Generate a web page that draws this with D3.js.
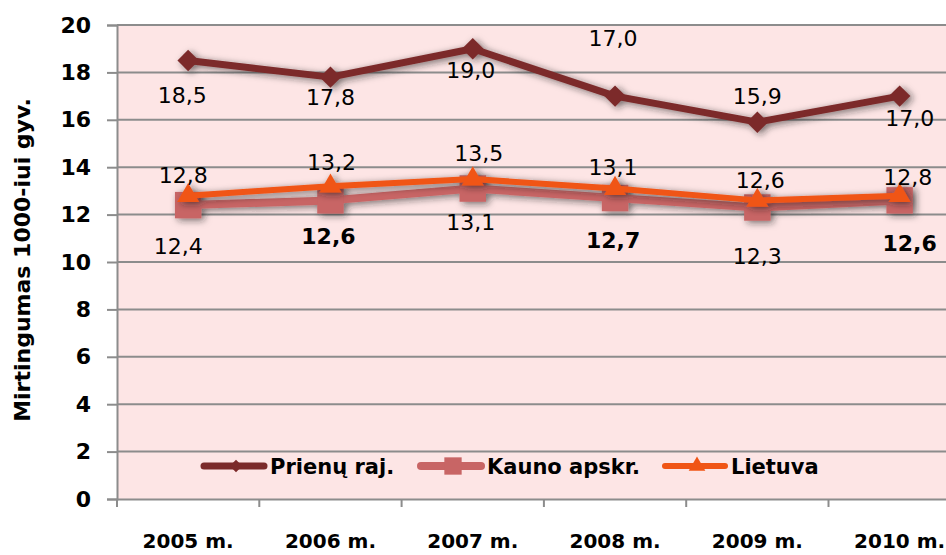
<!DOCTYPE html>
<html>
<head>
<meta charset="utf-8">
<script src="https://cdn.jsdelivr.net/npm/d3@7"></script>
<style>
  body { margin: 0; background: #fff; }
  svg { display: block; font-family: "DejaVu Sans", sans-serif; }
</style>
</head>
<body>
<div id="chart"></div>
<script>
var years = ["2005 m.", "2006 m.", "2007 m.", "2008 m.", "2009 m.", "2010 m."];
var prienai = [18.5, 17.8, 19.0, 17.0, 15.9, 17.0];
var kaunas = [12.4, 12.6, 13.1, 12.7, 12.3, 12.6];
var lietuva = [12.8, 13.2, 13.5, 13.1, 12.6, 12.8];
var yTicks = [0, 2, 4, 6, 8, 10, 12, 14, 16, 18, 20];

// label offsets (dx, dy) relative to the point, and weights
var prienaiLabelPos = [[-6, 42], [0, 28], [-2, 29], [-2, -50], [0, -18], [10, 30]];
var kaunasLabelPos = [[-10, 49], [-2, 44], [-2, 41], [-2, 50], [0, 57], [10, 51]];
var lietuvaLabelPos = [[-5, -13], [1, -16], [6, -18], [-2, -14], [3, -12], [8, -11]];
var kaunasBold = [false, true, false, true, false, true];

var width = 946, height = 555;
var plotLeft = 117, plotTop = 25, plotBottom = 499;
var band = 142.3;

var svg = d3.select("#chart").append("svg")
    .attr("width", width)
    .attr("height", height);

var defs = svg.append("defs");
var f = defs.append("filter").attr("id", "shadow")
    .attr("x", "-20%").attr("y", "-50%").attr("width", "140%").attr("height", "200%");
f.append("feDropShadow").attr("dx", 3).attr("dy", 2).attr("stdDeviation", 3.5)
    .attr("flood-color", "#222").attr("flood-opacity", 0.6);

var x = d3.scaleBand().domain(years).range([plotLeft, plotLeft + band * years.length]);
var y = d3.scaleLinear().domain([0, 20]).range([plotBottom, plotTop]);

svg.append("rect")
    .attr("x", plotLeft).attr("y", plotTop)
    .attr("width", band * years.length).attr("height", plotBottom - plotTop)
    .attr("fill", "#fde5e5");

// gridlines
svg.append("g").selectAll("line")
    .data(yTicks.filter(function(d) { return d > 0; }))
    .enter().append("line")
    .attr("x1", plotLeft).attr("x2", plotLeft + band * years.length)
    .attr("y1", function(d) { return y(d); })
    .attr("y2", function(d) { return y(d); })
    .attr("stroke", "#8c8c8c").attr("stroke-width", 2);

// y axis
var yAxis = svg.append("g")
    .attr("transform", "translate(" + plotLeft + ",0)")
    .call(d3.axisLeft(y).tickValues(yTicks).tickSize(10).tickPadding(16));
yAxis.select(".domain").attr("stroke", "#8c8c8c").attr("stroke-width", 2);
yAxis.selectAll(".tick line").attr("stroke", "#8c8c8c").attr("stroke-width", 2);
yAxis.selectAll(".tick text")
    .attr("font-size", 22).attr("font-weight", "bold").attr("fill", "#000")
    .attr("font-family", "DejaVu Sans");

// x axis
var xAxis = svg.append("g")
    .attr("transform", "translate(0," + plotBottom + ")")
    .call(d3.axisBottom(x).tickSize(0).tickPadding(35));
xAxis.select(".domain").attr("stroke", "#8c8c8c").attr("stroke-width", 2);
xAxis.selectAll(".tick text")
    .attr("font-size", 20).attr("font-weight", "bold").attr("fill", "#000")
    .attr("font-family", "DejaVu Sans");
svg.append("g").selectAll("line")
    .data(d3.range(years.length + 1))
    .enter().append("line")
    .attr("x1", function(i) { return plotLeft + i * band; })
    .attr("x2", function(i) { return plotLeft + i * band; })
    .attr("y1", plotBottom).attr("y2", plotBottom + 8)
    .attr("stroke", "#8c8c8c").attr("stroke-width", 2);

svg.append("text")
    .attr("transform", "translate(30,260) rotate(-90)")
    .attr("text-anchor", "middle")
    .attr("font-size", 22).attr("font-weight", "bold")
    .text("Mirtingumas 1000-iui gyv.");

function cx(i) { return x(years[i]) + x.bandwidth() / 2; }

var line = d3.line()
    .x(function(d, i) { return cx(i); })
    .y(function(d) { return y(d); });

var series = [
  { name: "Kauno apskr.", values: kaunas, color: "#c86565", width: 8, marker: "square" },
  { name: "Lietuva", values: lietuva, color: "#f05515", width: 6, marker: "triangle" },
  { name: "Prienų raj.", values: prienai, color: "#7b2a2a", width: 7, marker: "diamond" }
];

function markerPath(type, big) {
  if (type === "square") return d3.symbol().type(d3.symbolSquare).size(big ? 700 : 300)();
  if (type === "triangle") return d3.symbol().type(d3.symbolTriangle).size(big ? 210 : 120)();
  return d3.symbol().type(d3.symbolSquare).size(big ? 230 : 80)();
}

series.forEach(function(s) {
  var g = svg.append("g").attr("filter", "url(#shadow)");
  g.append("path")
      .datum(s.values)
      .attr("d", line)
      .attr("fill", "none")
      .attr("stroke", s.color)
      .attr("stroke-width", s.width)
      .attr("stroke-linejoin", "round");
  g.selectAll(".m")
      .data(s.values)
      .enter().append("path")
      .attr("d", markerPath(s.marker, true))
      .attr("transform", function(d, i) {
        var r = s.marker === "diamond" ? "rotate(45)" : "";
        return "translate(" + cx(i) + "," + y(d) + ")" + r;
      })
      .attr("fill", s.color);
});

function labels(values, pos, boldArr) {
  svg.append("g").selectAll("text")
      .data(values)
      .enter().append("text")
      .attr("x", function(d, i) { return cx(i) + pos[i][0]; })
      .attr("y", function(d, i) { return y(d) + pos[i][1]; })
      .attr("text-anchor", "middle")
      .attr("font-size", 22)
      .attr("font-weight", function(d, i) { return boldArr && boldArr[i] ? "bold" : "normal"; })
      .text(function(d) { return d3.format(".1f")(d).replace(".", ","); });
}
labels(prienai, prienaiLabelPos, null);
labels(kaunas, kaunasLabelPos, kaunasBold);
labels(lietuva, lietuvaLabelPos, null);

// legend
var legendItems = [
  { s: series[2], x0: 204 },
  { s: series[0], x0: 421 },
  { s: series[1], x0: 665 }
];
var ly = 466;
legendItems.forEach(function(it) {
  var g = svg.append("g");
  g.append("line")
      .attr("x1", it.x0).attr("x2", it.x0 + 60)
      .attr("y1", ly).attr("y2", ly)
      .attr("stroke", it.s.color).attr("stroke-width", it.s.width)
      .attr("stroke-linecap", "round");
  g.append("path")
      .attr("d", markerPath(it.s.marker, false))
      .attr("transform", "translate(" + (it.x0 + 32) + "," + ly + ")" +
          (it.s.marker === "diamond" ? "rotate(45)" : ""))
      .attr("fill", it.s.color);
  g.append("text")
      .attr("x", it.x0 + 66).attr("y", ly + 8)
      .attr("font-size", 21).attr("font-weight", "bold")
      .text(it.s.name);
});
</script>
</body>
</html>
